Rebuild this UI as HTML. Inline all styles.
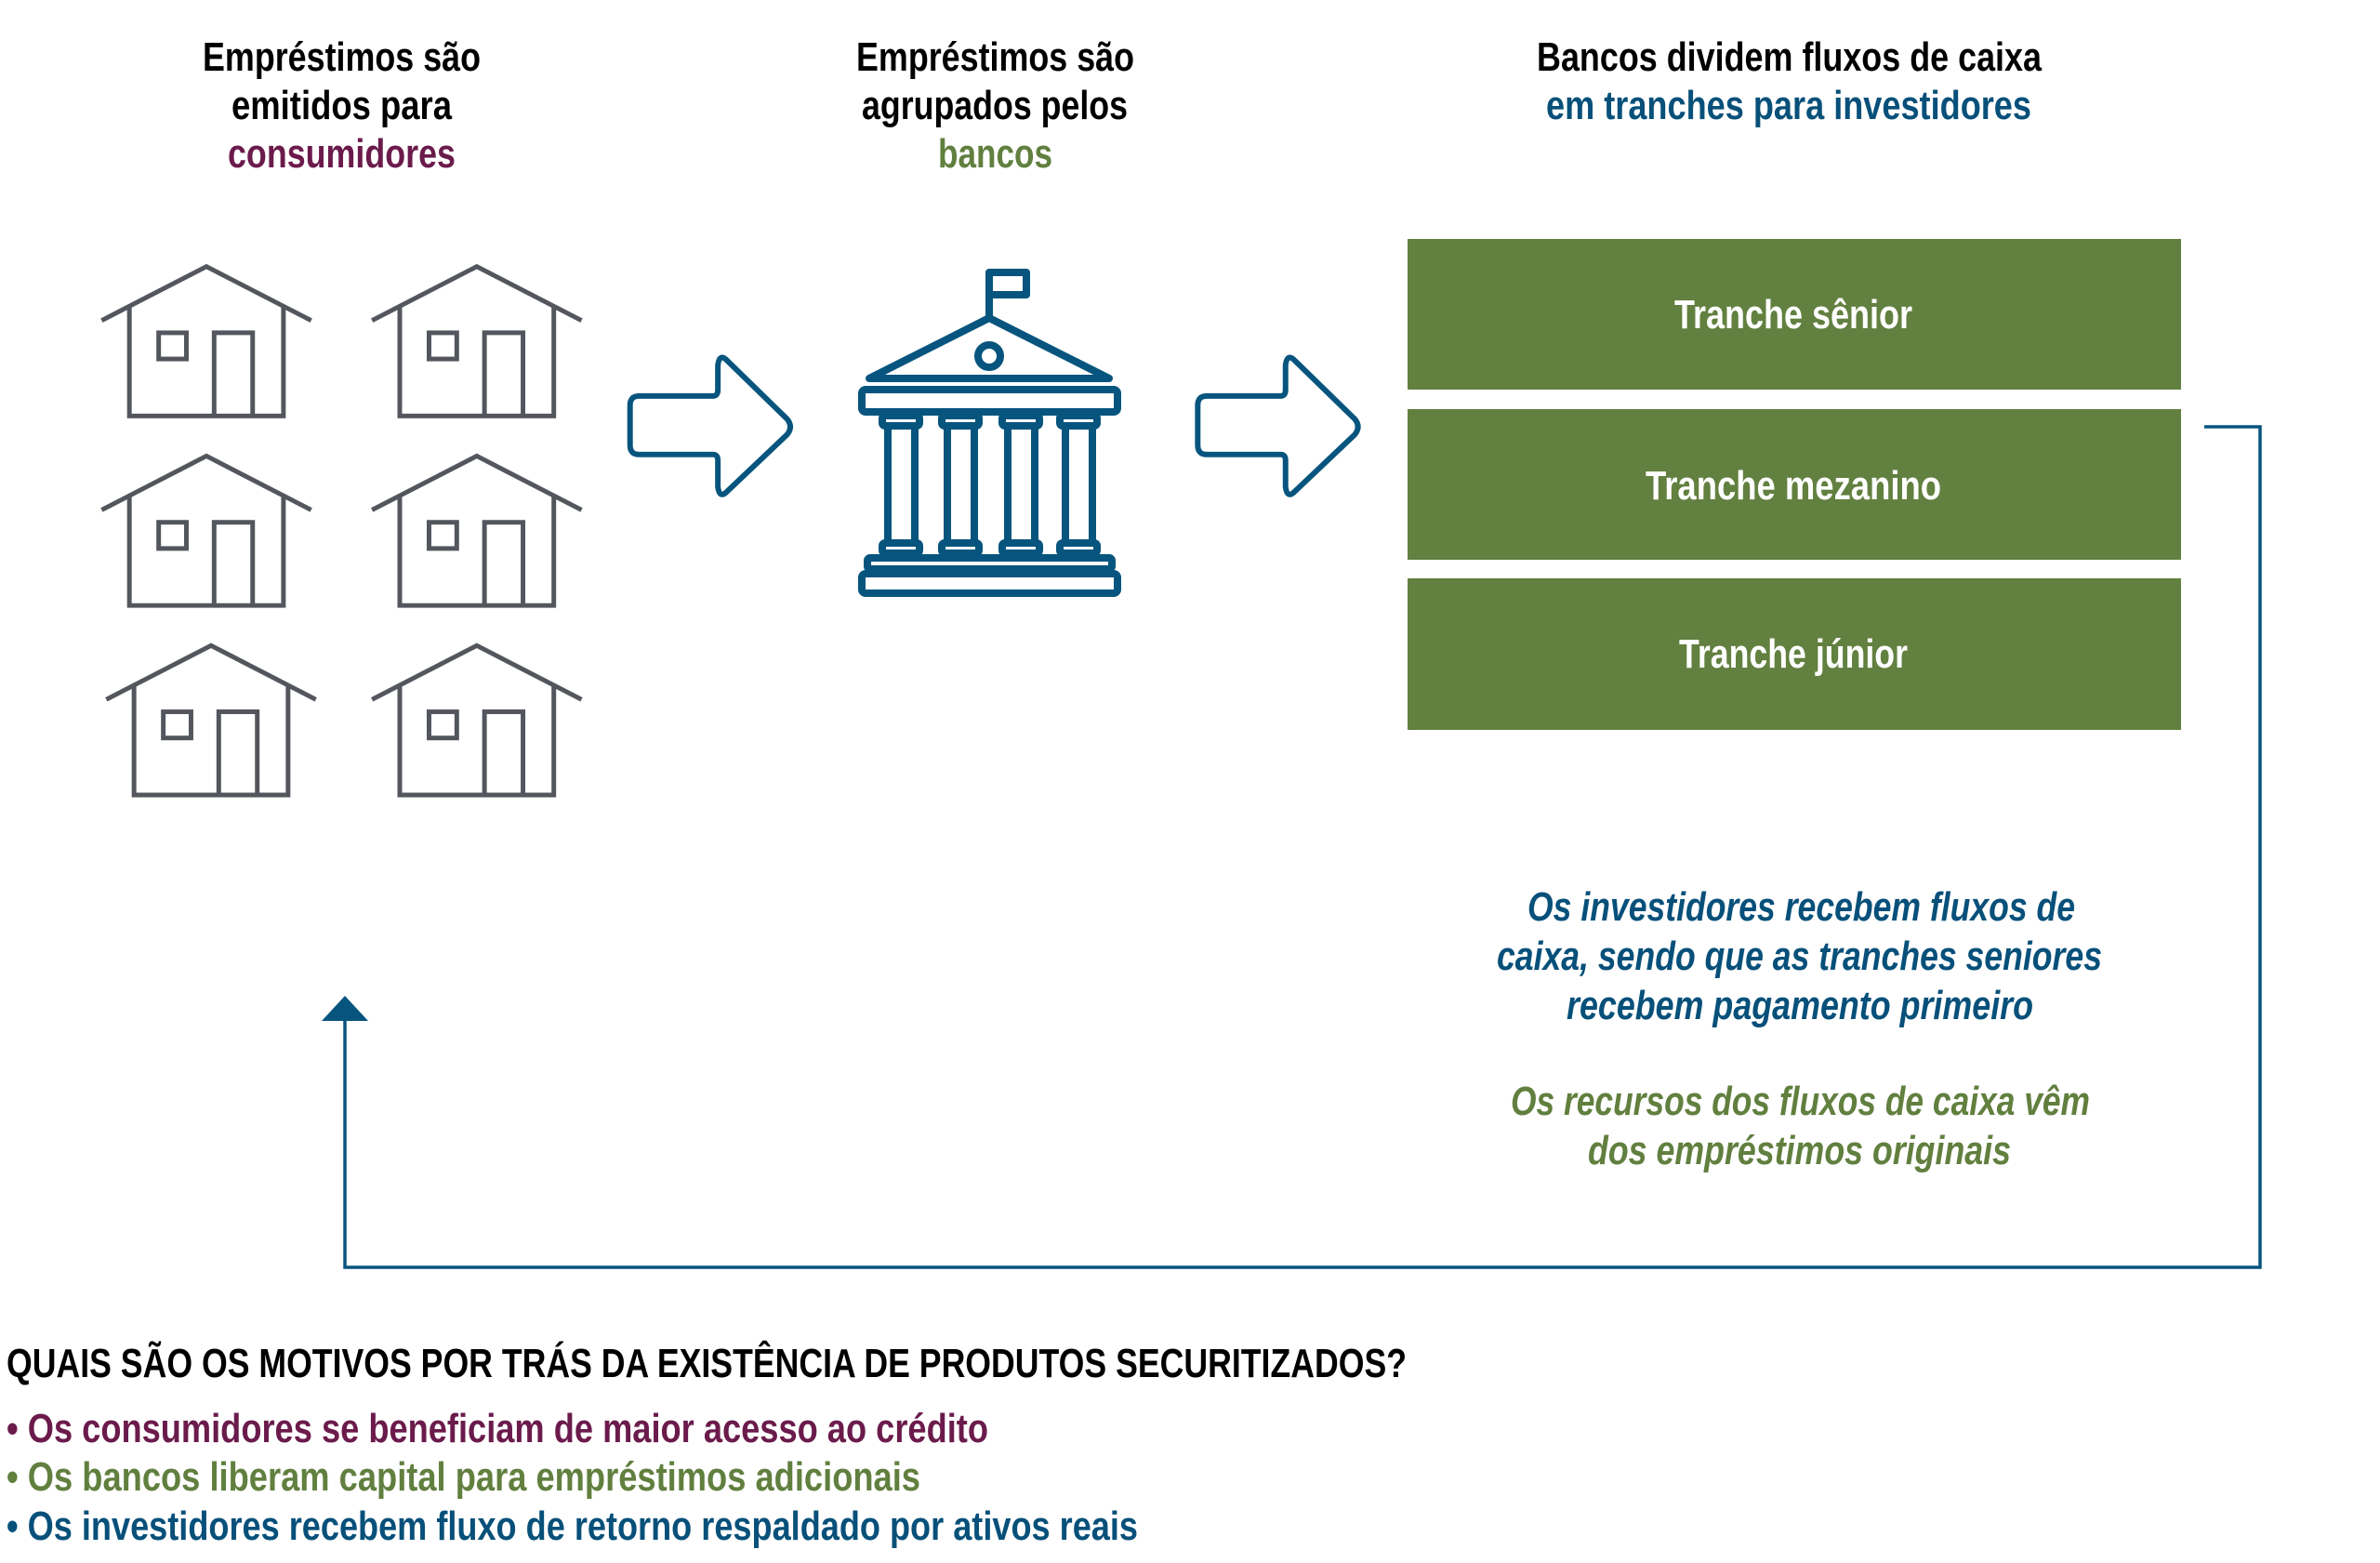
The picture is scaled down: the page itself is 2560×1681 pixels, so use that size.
<!DOCTYPE html>
<html><head><meta charset="utf-8"><style>
html,body{margin:0;padding:0;background:#fff;}
svg{display:block;}
text{font-family:"Liberation Sans Narrow","Liberation Sans",sans-serif;font-weight:bold;font-size:44px;}
</style></head><body>
<svg width="2560" height="1681" viewBox="0 0 2560 1681" xmlns="http://www.w3.org/2000/svg">
<defs>
<g id="house" fill="none" stroke="#54565e" stroke-width="3" stroke-linejoin="miter">
<polyline points="66,208 134,173 202,208"/>
<polyline points="84,198 84,270 184,270 184,198"/>
<rect x="103" y="216" width="18" height="17"/>
<polyline points="139,270 139,216 164,216 164,270"/>
</g>
<path id="arr" d="M409,263 Q409,257 415,257 L463,257 Q466,257 466,253 L466,237 Q467,229 472,234 L511,272 Q515,277 511,282 L472,319 Q467,324 466,316 L466,299 Q466,295 463,295 L415,295 Q409,295 409,289 Z" fill="none" stroke="#07557e" stroke-width="3.6" stroke-linejoin="round"/>
</defs>
<g transform="scale(1.657)">
<use href="#house"/>
<use href="#house" transform="translate(175.5,0)"/>
<use href="#house" transform="translate(0,123)"/>
<use href="#house" transform="translate(175.5,123)"/>
<use href="#house" transform="translate(3,246)"/>
<use href="#house" transform="translate(175.5,246)"/>
<use href="#arr"/>
<use href="#arr" transform="translate(368.5,0)"/>
</g>
<!-- bank -->
<g fill="none" stroke="#07557e" stroke-width="8" stroke-linejoin="round">
<polyline points="1064,342 1064,293 1104,293 1104,317 1064,317"/>
<polygon points="1064,342 935,407 1193,407"/>
<circle cx="1064" cy="383" r="12"/>
<rect x="927" y="419" width="275" height="24" rx="4"/>
<g id="col">
<rect x="949" y="447" width="40" height="11" rx="3"/>
<rect x="955" y="458" width="29" height="126"/>
<rect x="949" y="584" width="40" height="11" rx="3"/>
</g>
<use href="#col" transform="translate(64,0)"/>
<use href="#col" transform="translate(129,0)"/>
<use href="#col" transform="translate(191,0)"/>
<rect x="933" y="600" width="263" height="12" rx="3"/>
<rect x="927" y="617" width="275" height="21" rx="4"/>
</g>
<!-- titles -->
<g text-anchor="start">
<text x="218" y="76" textLength="299" lengthAdjust="spacingAndGlyphs" fill="#000">Empréstimos são</text>
<text x="249" y="128" textLength="237" lengthAdjust="spacingAndGlyphs" fill="#000">emitidos para</text>
<text x="245" y="180" textLength="245" lengthAdjust="spacingAndGlyphs" fill="#6b1b4b">consumidores</text>
<text x="921" y="76" textLength="299" lengthAdjust="spacingAndGlyphs" fill="#000">Empréstimos são</text>
<text x="927" y="128" textLength="286" lengthAdjust="spacingAndGlyphs" fill="#000">agrupados pelos</text>
<text x="1009" y="180" textLength="123" lengthAdjust="spacingAndGlyphs" fill="#617f3e">bancos</text>
<text x="1653" y="76" textLength="543" lengthAdjust="spacingAndGlyphs" fill="#000">Bancos dividem fluxos de caixa</text>
<text x="1663" y="128" textLength="522" lengthAdjust="spacingAndGlyphs" fill="#07507a">em tranches para investidores</text>
</g>
<!-- tranches -->
<rect x="1514" y="257" width="832" height="162" fill="#62803f"/>
<rect x="1514" y="440" width="832" height="162" fill="#62803f"/>
<rect x="1514" y="622" width="832" height="163" fill="#62803f"/>
<text x="1801" y="353" textLength="256" lengthAdjust="spacingAndGlyphs" fill="#fff">Tranche sênior</text>
<text x="1770" y="537" textLength="318" lengthAdjust="spacingAndGlyphs" fill="#fff">Tranche mezanino</text>
<text x="1806" y="718" textLength="246" lengthAdjust="spacingAndGlyphs" fill="#fff">Tranche júnior</text>
<!-- connector -->
<polyline points="2371,459 2431,459 2431,1363 371,1363 371,1095" fill="none" stroke="#07557e" stroke-width="3.5"/>
<polygon points="371,1071 346,1098 396,1098" fill="#07557e"/>
<!-- italic notes -->
<g font-style="italic">
<text x="1643" y="990" textLength="589" lengthAdjust="spacingAndGlyphs" fill="#07507a" font-style="italic">Os investidores recebem fluxos de</text>
<text x="1610" y="1043" textLength="651" lengthAdjust="spacingAndGlyphs" fill="#07507a" font-style="italic">caixa, sendo que as tranches seniores</text>
<text x="1685" y="1096" textLength="502" lengthAdjust="spacingAndGlyphs" fill="#07507a" font-style="italic">recebem pagamento primeiro</text>
<text x="1625" y="1199" textLength="623" lengthAdjust="spacingAndGlyphs" fill="#617f3e" font-style="italic">Os recursos dos fluxos de caixa vêm</text>
<text x="1708" y="1252" textLength="455" lengthAdjust="spacingAndGlyphs" fill="#617f3e" font-style="italic">dos empréstimos originais</text>
</g>
<!-- bottom -->
<text x="7" y="1481" textLength="1506" lengthAdjust="spacingAndGlyphs" fill="#000">QUAIS SÃO OS MOTIVOS POR TRÁS DA EXISTÊNCIA DE PRODUTOS SECURITIZADOS?</text>
<text x="7" y="1551" textLength="1056" lengthAdjust="spacingAndGlyphs" fill="#6b1b4b">• Os consumidores se beneficiam de maior acesso ao crédito</text>
<text x="7" y="1603" textLength="983" lengthAdjust="spacingAndGlyphs" fill="#617f3e">• Os bancos liberam capital para empréstimos adicionais</text>
<text x="7" y="1656" textLength="1217" lengthAdjust="spacingAndGlyphs" fill="#07507a">• Os investidores recebem fluxo de retorno respaldado por ativos reais</text>
</svg>
</body></html>
